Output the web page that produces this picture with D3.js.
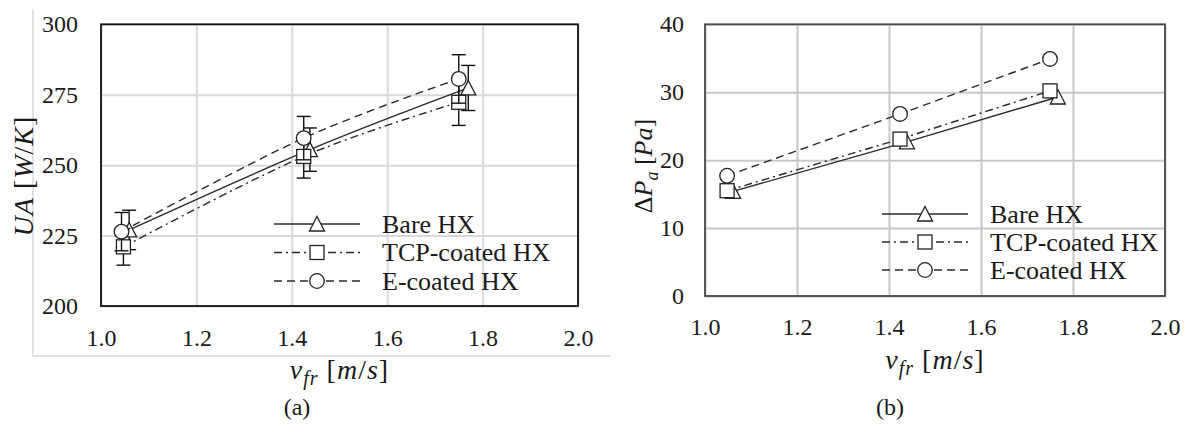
<!DOCTYPE html>
<html>
<head>
<meta charset="UTF-8" />
<title>UA and air-side pressure drop vs frontal velocity</title>
<script src="https://d3js.org/d3.v7.min.js"></script>
</head>
<body style="margin:0; background:#fff">
<svg id="fig" width="1186" height="428"></svg>

<script type="text/javascript">
// legend names, same order for both panels
const seriesNames = ["Bare HX", "TCP-coated HX", "E-coated HX"]
const xTicks = [1.0, 1.2, 1.4, 1.6, 1.8, 2.0]
const uaTicks = [200, 225, 250, 275, 300]
const dpTicks = [0, 10, 20, 30, 40]

// (a) UA [W/K] with error bars
const uaVfrBare = [1.059, 1.438, 1.770]
const uaBare    = [227.0, 255.5, 277.4]
const uaErrBare = [7.0, 7.7, 8.0]
const uaVfrTcp  = [1.047, 1.425, 1.750]
const uaTcp     = [221.0, 253.1, 272.3]
const uaErrTcp  = [6.5, 7.7, 8.2]
const uaVfrE    = [1.043, 1.425, 1.750]
const uaE       = [226.4, 259.6, 280.6]
const uaErrE    = [6.8, 7.7, 8.6]

// (b) dP_a [Pa]
const dpVfrBare = [1.061, 1.439, 1.767]
const dpBare    = [15.4, 22.7, 29.3]
const dpVfrTcp  = [1.048, 1.424, 1.750]
const dpTcp     = [15.5, 23.1, 30.2]
const dpVfrE    = [1.048, 1.424, 1.750]
const dpE       = [17.7, 26.8, 34.9]

// styles per series
const dashes = [null, "8,4,2,4", "8,5"]
const shapes = ["triangle", "square", "circle"]
const serif = "'Liberation Serif', 'Times New Roman', serif"

const svg = d3.select("#fig").style("font-family", serif)
svg.append("rect").attr("width", 1186).attr("height", 428).attr("fill", "#fff")

function zip(xs, ys, es){
	return xs.map((x, i) => ({x: x, y: ys[i], e: es ? es[i] : null}))
}

function txt(sel, size){
	return sel.attr("font-family", serif).attr("font-size", size)
		.style("font-family", serif).style("font-size", size + "px").style("fill", "#1a1a1a")
}

function marker(g, shape, cx, cy){
	if(shape == "triangle"){
		g.append("path").attr("d", `M${cx},${cy-7.5}L${cx+7.5},${cy+7}L${cx-7.5},${cy+7}Z`)
			.attr("fill", "#fff").attr("stroke", "#222").attr("stroke-width", 1.3)
	} else if(shape == "square"){
		g.append("rect").attr("x", cx-7).attr("y", cy-7).attr("width", 14).attr("height", 14)
			.attr("fill", "#fff").attr("stroke", "#222").attr("stroke-width", 1.3)
	} else {
		g.append("circle").attr("cx", cx).attr("cy", cy).attr("r", 7.3)
			.attr("fill", "#fff").attr("stroke", "#222").attr("stroke-width", 1.3)
	}
}

function panel(cfg){
	const g = svg.append("g")
	const x = d3.scaleLinear().domain([1.0, 2.0]).range([cfg.left, cfg.right])
	const y = d3.scaleLinear().domain(cfg.yDomain).range([cfg.bottom, cfg.top])
	const w = cfg.right - cfg.left, h = cfg.bottom - cfg.top

	// gridlines
	g.append("g").attr("transform", `translate(0,${cfg.bottom})`)
		.call(d3.axisBottom(x).tickValues(xTicks).tickSize(-h).tickFormat(""))
	g.append("g").attr("transform", `translate(${cfg.left},0)`)
		.call(d3.axisLeft(y).tickValues(cfg.yTicks).tickSize(-w).tickFormat(""))
	g.selectAll(".domain").remove()
	g.selectAll(".tick line").attr("stroke", cfg.grid).attr("stroke-width", 2)

	// plot border
	g.append("rect").attr("x", cfg.left).attr("y", cfg.top).attr("width", w).attr("height", h)
		.attr("fill", "none").attr("stroke", cfg.frame).attr("stroke-width", 1.8)

	// tick labels
	const ax = g.append("g").attr("transform", `translate(0,${cfg.bottom})`)
		.call(d3.axisBottom(x).tickValues(xTicks).tickSize(0).tickPadding(cfg.xPad).tickFormat(d3.format(".1f")))
	const ay = g.append("g").attr("transform", `translate(${cfg.left},0)`)
		.call(d3.axisLeft(y).tickValues(cfg.yTicks).tickSize(0).tickPadding(cfg.yPad))
	ax.select(".domain").remove()
	ay.select(".domain").remove()
	txt(ax, 24); txt(ay, 24)
	txt(ax.selectAll(".tick text"), 24)
	txt(ay.selectAll(".tick text"), 24)

	// lines
	const line = d3.line().x(d => x(d.x)).y(d => y(d.y)).curve(cfg.curve)
	cfg.series.forEach((s, i) => {
		g.append("path").attr("d", line(s)).attr("fill", "none")
			.attr("stroke", "#2a2a2a").attr("stroke-width", 1.4)
			.attr("stroke-dasharray", dashes[i])
	})
	// error bars + markers
	cfg.series.forEach((s, i) => {
		const sg = g.append("g")
		s.forEach(d => {
			if(d.e != null){
				const cx = x(d.x)
				sg.append("line").attr("x1", cx).attr("x2", cx).attr("y1", y(d.y - d.e)).attr("y2", y(d.y + d.e))
					.attr("stroke", "#111").attr("stroke-width", 1.4)
				;[d.y - d.e, d.y + d.e].forEach(v => {
					sg.append("line").attr("x1", cx - 7).attr("x2", cx + 7).attr("y1", y(v)).attr("y2", y(v))
						.attr("stroke", "#111").attr("stroke-width", 1.4)
				})
			}
			marker(sg, shapes[i], x(d.x), y(d.y))
		})
	})

	// legend
	seriesNames.forEach((name, i) => {
		const ly = cfg.legY + i * cfg.legStep
		g.append("line").attr("x1", cfg.legX).attr("x2", cfg.legX + 86).attr("y1", ly).attr("y2", ly)
			.attr("stroke", "#2a2a2a").attr("stroke-width", 1.4).attr("stroke-dasharray", dashes[i])
		marker(g, shapes[i], cfg.legX + 43, ly)
		txt(g.append("text"), 26).attr("x", cfg.legX + 108).attr("y", ly).attr("dy", "0.34em").text(name)
	})

	// x title: v_fr [m/s]
	const xt = txt(g.append("text"), 28).attr("x", (cfg.left + cfg.right) / 2).attr("y", cfg.xTitleY)
		.attr("text-anchor", "middle").style("letter-spacing", "1px")
	xt.append("tspan").style("font-style", "italic").text("v")
	xt.append("tspan").style("font-style", "italic").style("font-size", "20px").attr("dy", 6).text("fr")
	xt.append("tspan").attr("dy", -6).text(" [")
	xt.append("tspan").style("font-style", "italic").text("m")
	xt.append("tspan").text("/")
	xt.append("tspan").style("font-style", "italic").text("s")
	xt.append("tspan").text("]")

	// caption
	txt(g.append("text"), 24).attr("x", cfg.capX).attr("y", 415).attr("text-anchor", "middle").text(cfg.caption)
	return g
}

// (a)
panel({
	left: 101, right: 578, top: 24.3, bottom: 306,
	yDomain: [200, 300], yTicks: uaTicks, xPad: 23, yPad: 23,
	grid: "#d9d9d9", frame: "#111", curve: d3.curveCardinal.tension(0),
	series: [zip(uaVfrBare, uaBare, uaErrBare), zip(uaVfrTcp, uaTcp, uaErrTcp), zip(uaVfrE, uaE, uaErrE)],
	legX: 274, legY: 224, legStep: 28.5,
	xTitleY: 379, capX: 297, caption: "(a)"
})
// chart-area edge of (a)
svg.append("path").attr("d", "M33,10V356H611").attr("fill", "none").attr("stroke", "#d9d9d9").attr("stroke-width", 1.5)

const yta = txt(svg.append("text"), 28).attr("transform", "translate(33,176) rotate(-90)")
	.attr("text-anchor", "middle").style("letter-spacing", "1px")
yta.append("tspan").style("font-style", "italic").text("UA")
yta.append("tspan").text(" [")
yta.append("tspan").style("font-style", "italic").text("W")
yta.append("tspan").text("/")
yta.append("tspan").style("font-style", "italic").text("K")
yta.append("tspan").text("]")

// (b)
panel({
	left: 705, right: 1165, top: 24.3, bottom: 296,
	yDomain: [0, 40], yTicks: dpTicks, xPad: 22, yPad: 21,
	grid: "#c8c8c8", frame: "#4a4a4a", curve: d3.curveLinear,
	series: [zip(dpVfrBare, dpBare), zip(dpVfrTcp, dpTcp), zip(dpVfrE, dpE)],
	legX: 882, legY: 214, legStep: 28,
	xTitleY: 369, capX: 890, caption: "(b)"
})

const ytb = txt(svg.append("text"), 26).attr("transform", "translate(652,166) rotate(-90)")
	.attr("text-anchor", "middle")
ytb.append("tspan").text("Δ")
ytb.append("tspan").style("font-style", "italic").text("P")
ytb.append("tspan").style("font-style", "italic").style("font-size", "18px").attr("dy", 6).text("a")
ytb.append("tspan").attr("dy", -6).text(" [")
ytb.append("tspan").style("font-style", "italic").text("Pa")
ytb.append("tspan").text("]")
</script>
</body>
</html>
